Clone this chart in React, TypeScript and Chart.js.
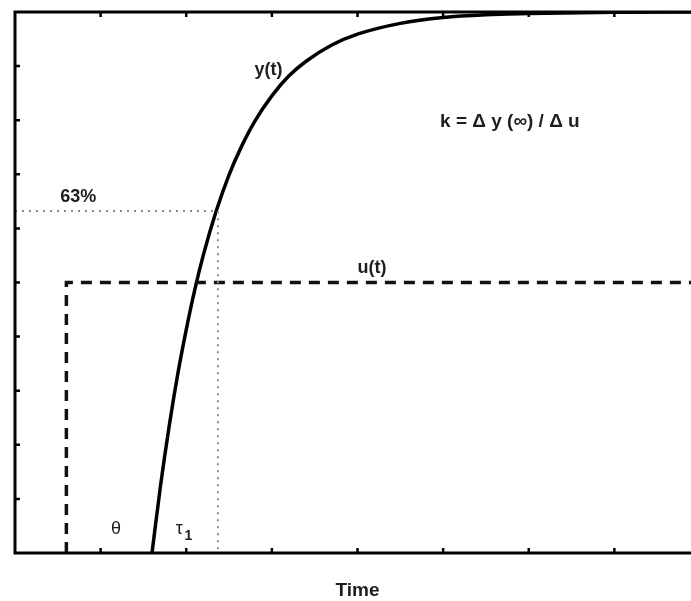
import React, { useEffect, useRef } from "react";
import { Chart, registerables } from "chart.js";

Chart.register(...registerables);

// y(t) response curve
const respT = [1.6, 1.7, 1.8, 1.9, 2.0, 2.1, 2.2, 2.35, 2.5, 2.65, 2.8, 3.0, 3.2, 3.4, 3.7, 4.0, 4.5, 5.0, 5.5, 6.0, 7.0, 8.0];
const respY = [0, 1.25, 2.34, 3.3, 4.13, 4.87, 5.51, 6.32, 6.99, 7.53, 7.98, 8.45, 8.82, 9.09, 9.39, 9.59, 9.79, 9.9, 9.95, 9.97, 9.995, 10];

// u(t) step input
const stepT = [0.6, 0.6, 8];
const stepY = [0, 5, 5];

// 63% guide line
const guideT = [0, 2.37, 2.37];
const guideY = [6.32, 6.32, 0];

const xTicks = [1, 2, 3, 4, 5, 6, 7];
const yTicks = [1, 2, 3, 4, 5, 6, 7, 8, 9];

const X_MIN = 0;
const X_MAX = 8;
const Y_MIN = 0;
const Y_MAX = 10;

type Label = { text: string; x: number; y: number; size: number; bold: boolean };
const labels: Label[] = [
  { text: "y(t)", x: 2.96, y: 8.93, size: 18, bold: true },
  { text: "k = \u0394 y (\u221e) / \u0394 u", x: 5.78, y: 7.97, size: 19, bold: true },
  { text: "63%", x: 0.74, y: 6.58, size: 18, bold: true },
  { text: "u(t)", x: 4.17, y: 5.27, size: 18, bold: true },
  { text: "\u03b8", x: 1.18, y: 0.45, size: 18, bold: false },
];

const FONT = "'Liberation Sans', Arial, Helvetica, sans-serif";

const overlay = {
  id: "overlay",
  afterDatasetsDraw(chart: any) {
    const ctx = chart.ctx as CanvasRenderingContext2D;
    const { left, right, top, bottom } = chart.chartArea;
    const xs = chart.scales.x;
    const ys = chart.scales.y;
    ctx.save();
    // frame
    ctx.strokeStyle = "#000";
    ctx.lineWidth = 3;
    ctx.strokeRect(left, top, right - left, bottom - top);
    // inward ticks
    ctx.lineWidth = 2.5;
    const tl = 5;
    ctx.beginPath();
    for (const v of xTicks) {
      const px = xs.getPixelForValue(v);
      ctx.moveTo(px, bottom);
      ctx.lineTo(px, bottom - tl);
      ctx.moveTo(px, top);
      ctx.lineTo(px, top + tl);
    }
    for (const v of yTicks) {
      const py = ys.getPixelForValue(v);
      ctx.moveTo(left, py);
      ctx.lineTo(left + tl, py);
      ctx.moveTo(right, py);
      ctx.lineTo(right - tl, py);
    }
    ctx.stroke();
    // labels
    ctx.fillStyle = "#1e1e1e";
    ctx.textAlign = "center";
    ctx.textBaseline = "middle";
    for (const l of labels) {
      ctx.font = `${l.bold ? "bold " : ""}${l.size}px ${FONT}`;
      ctx.fillText(l.text, xs.getPixelForValue(l.x), ys.getPixelForValue(l.y));
    }
    // tau_1
    const tx = xs.getPixelForValue(1.92);
    const ty = ys.getPixelForValue(0.45);
    ctx.font = `18px ${FONT}`;
    ctx.fillText("\u03c4", tx, ty);
    ctx.font = `bold 14px ${FONT}`;
    ctx.fillText("1", tx + 9, ty + 7);
    // axis title
    ctx.font = `bold 19px ${FONT}`;
    ctx.fillText("Time", (left + right) / 2, 591);
    ctx.restore();
  },
};

export default function App() {
  const ref = useRef<HTMLCanvasElement | null>(null);
  useEffect(() => {
    if (!ref.current) return;
    const toPts = (xs: number[], ys: number[]) => xs.map((x, i) => ({ x, y: ys[i] }));
    const chart = new Chart(ref.current, {
      type: "line",
      data: {
        datasets: [
          {
            label: "63%",
            data: toPts(guideT, guideY),
            borderColor: "#8a8a8a",
            borderWidth: 2,
            borderDash: [2, 5],
            pointRadius: 0,
            tension: 0,
          },
          {
            label: "u(t)",
            data: toPts(stepT, stepY),
            borderColor: "#111",
            borderWidth: 3.5,
            borderDash: [11, 8],
            pointRadius: 0,
            tension: 0,
          },
          {
            label: "y(t)",
            data: toPts(respT, respY),
            borderColor: "#000",
            borderWidth: 3.5,
            pointRadius: 0,
            cubicInterpolationMode: "monotone",
          },
        ],
      },
      options: {
        responsive: false,
        animation: false,
        layout: { padding: { left: 15, top: 12, right: 5, bottom: 48 } },
        plugins: { legend: { display: false }, tooltip: { enabled: false } },
        scales: {
          x: { type: "linear", min: X_MIN, max: X_MAX, display: false },
          y: { type: "linear", min: Y_MIN, max: Y_MAX, display: false },
        },
      },
      plugins: [overlay],
    });
    return () => chart.destroy();
  }, []);
  return (
    <div style={{ position: "fixed", left: 0, top: 0, width: 691, height: 601, overflow: "hidden", background: "#fff" }}>
      <canvas ref={ref} width={705} height={601} style={{ display: "block" }} />
    </div>
  );
}
